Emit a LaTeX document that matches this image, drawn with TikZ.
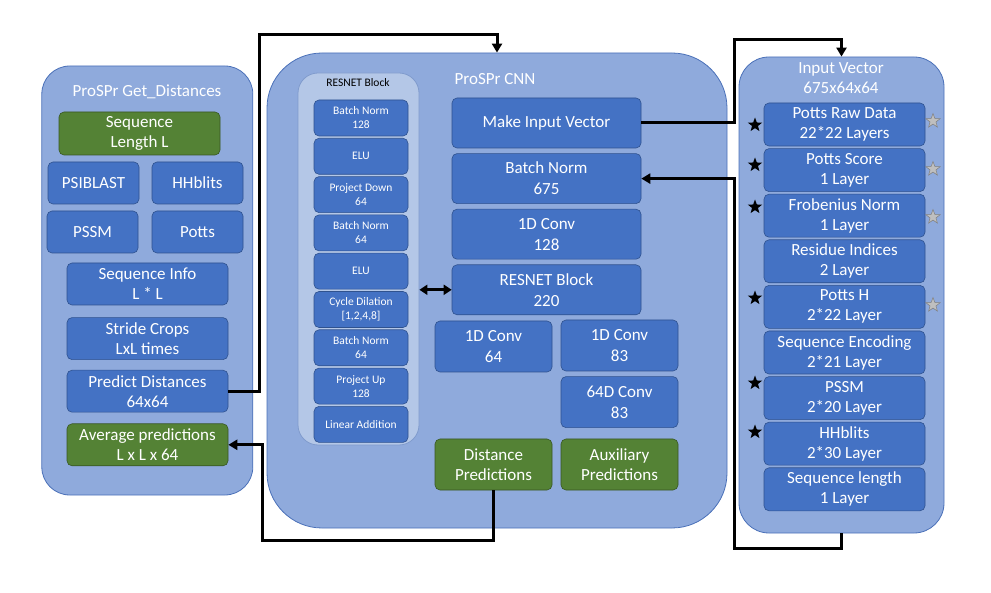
\documentclass[tikz,border=0pt]{standalone}
\usepackage{fontspec}
\setmainfont{Carlito}
\usepackage{tikz}
\usetikzlibrary{positioning,arrows.meta,shapes.geometric}

\definecolor{panelblue}{HTML}{8FAADC}
\definecolor{panelline}{HTML}{4A70B8}
\definecolor{boxblue}{HTML}{4472C4}
\definecolor{boxline}{HTML}{2F528F}
\definecolor{resblue}{HTML}{B4C7E7}
\definecolor{boxgreen}{HTML}{548235}
\definecolor{greenline}{HTML}{385723}

\begin{document}
\begin{tikzpicture}[x=1pt, y=-1pt,
    panel/.style={rectangle, draw=panelline, fill=panelblue, line width=0.8pt, inner sep=0pt},
    box/.style={rectangle, draw=boxline, fill=boxblue, rounded corners=5pt, text=white,
                align=center, inner sep=0pt, line width=0.6pt, font=\fontsize{17}{20}\selectfont},
    gbox/.style={box, draw=greenline, fill=boxgreen},
    cbox/.style={box, minimum height=50pt, font=\fontsize{17}{21}\selectfont},
    rbox/.style={box, minimum width=94pt, minimum height=36pt, font=\fontsize{11.5}{14}\selectfont},
    vbox/.style={box, minimum width=161pt, minimum height=43pt},
    title/.style={text=white, align=center, font=\fontsize{17}{20}\selectfont},
    conn/.style={-{Triangle[length=9pt,width=10pt]}, line width=3pt},
    dconn/.style={{Triangle[length=8pt,width=10pt]}-{Triangle[length=8pt,width=10pt]}, line width=2.6pt},
    bstar/.style={star, star points=5, star point ratio=2.4, minimum size=15pt, inner sep=0pt, fill=black},
    gstar/.style={bstar, fill=gray!50, draw=gray, line width=0.5pt},
]
\useasboundingbox (0,0) rectangle (991,593);

% ProSPr Get_Distances
\node[panel, rounded corners=28pt, minimum width=211pt, minimum height=429pt] (getdist) at (147.3,280.5) {};
\node[title] (getdisttitle) at (147,92) {ProSPr Get\_Distances};
\node[gbox, minimum width=161pt, minimum height=43pt] (seqlen) at (139.5,133.5) {Sequence\\Length L};
\node[box, minimum width=91pt, minimum height=42pt] (psiblast) at (93.5,183) {PSIBLAST};
\node[box, minimum width=91pt, minimum height=42pt] (hhblits) at (197.5,183) {HHblits};
\node[box, minimum width=91pt, minimum height=42pt] (pssm) at (92.5,232) {PSSM};
\node[box, minimum width=91pt, minimum height=42pt] (potts) at (197.5,232) {Potts};
\node[box, minimum width=161pt, minimum height=42pt] (seqinfo) at (147.5,284) {Sequence Info\\L * L};
\node[box, minimum width=161pt, minimum height=42pt, below=12pt of seqinfo] (stride) {Stride Crops\\LxL times};
\node[box, minimum width=161pt, minimum height=42pt, below=10pt of stride] (predict) {Predict Distances\\64x64};
\node[gbox, minimum width=161pt, minimum height=42pt, below=11pt of predict] (average) {Average predictions\\L x L x 64};

% ProSPr CNN
\node[panel, rounded corners=55pt, minimum width=460pt, minimum height=475pt] (cnn) at (497,290.5) {};
\node[title] (cnntitle) at (495,79) {ProSPr CNN};

% RESNET Block
\node[panel, draw=panelline!70, fill=resblue, rounded corners=20pt, minimum width=121pt, minimum height=372pt] (resnet) at (358.5,259) {};
\node[font=\fontsize{11.5}{14}\selectfont] (resnettitle) at (358,83) {RESNET Block};
\node[rbox] (rbn1) at (361,118) {Batch Norm\\128};
\node[rbox, below=1.7pt of rbn1] (relu1) {ELU};
\node[rbox, below=1.7pt of relu1] (rdown) {Project Down\\64};
\node[rbox, below=1.7pt of rdown] (rbn2) {Batch Norm\\64};
\node[rbox, below=1.7pt of rbn2] (relu2) {ELU};
\node[rbox, below=1.7pt of relu2] (rdil) {Cycle Dilation\\{[1,2,4,8]}};
\node[rbox, below=1.7pt of rdil] (rbn3) {Batch Norm\\64};
\node[rbox, below=1.7pt of rbn3] (rup) {Project Up\\128};
\node[rbox, below=1.7pt of rup] (radd) {Linear Addition};

% CNN layers
\node[cbox, minimum width=189pt] (mkinput) at (546.5,123) {Make Input Vector};
\node[cbox, minimum width=189pt, below=5pt of mkinput] (bn675) {Batch Norm\\675};
\node[cbox, minimum width=189pt, below=5pt of bn675] (conv128) {1D Conv\\128};
\node[cbox, minimum width=189pt, below=5pt of conv128] (resblk) {RESNET Block\\220};
\node[cbox, minimum width=117pt, minimum height=51pt] (conv64) at (493.5,346.5) {1D Conv\\64};
\node[cbox, minimum width=117pt, minimum height=51pt] (conv83) at (619.5,345.5) {1D Conv\\83};
\node[cbox, minimum width=117pt, minimum height=51pt, below=5pt of conv83] (conv64d) {64D Conv\\83};
\node[cbox, gbox, minimum width=117pt, minimum height=51pt] (distpred) at (493.5,464.5) {Distance\\Predictions};
\node[cbox, gbox, minimum width=117pt, minimum height=51pt] (auxpred) at (619.5,464.5) {Auxiliary\\Predictions};

% Input Vector
\node[panel, rounded corners=30pt, minimum width=205pt, minimum height=476pt] (inpanel) at (841.5,295) {};
\node[title] (invectitle) at (841,78) {Input Vector\\675x64x64};
\node[vbox] (pottsraw) at (844.5,124.5) {Potts Raw Data\\22*22 Layers};
\node[vbox, below=2pt of pottsraw] (pottsscore) {Potts Score\\1 Layer};
\node[vbox, below=2pt of pottsscore] (frob) {Frobenius Norm\\1 Layer};
\node[vbox, below=2pt of frob] (resid) {Residue Indices\\2 Layer};
\node[vbox, below=2pt of resid] (pottsh) {Potts H\\2*22 Layer};
\node[vbox, below=2pt of pottsh] (seqenc) {Sequence Encoding\\2*21 Layer};
\node[vbox, below=2pt of seqenc] (inpssm) {PSSM\\2*20 Layer};
\node[vbox, below=2pt of inpssm] (inhhb) {HHblits\\2*30 Layer};
\node[vbox, below=2pt of inhhb] (inseqlen) {Sequence length\\1 Layer};

% stars
\foreach \y [count=\i] in {125,165,207,298,383,432}
  \node[bstar] (bs\i) at (755,\y) {};
\foreach \y [count=\i] in {121,169,217,305}
  \node[gstar] (gs\i) at (933,\y) {};

% connectors
\coordinate (toppath) at (259,35);
\coordinate (botpath) at (262,540);
\coordinate (rtoppath) at (734,40);
\coordinate (rbotpath) at (734,548);
\draw[conn] (predict.east) -| (toppath) -| (cnn.north);
\draw[conn] (distpred.south) |- (botpath) |- (average.east);
\draw[conn] (mkinput.east) -| (rtoppath) -| (inpanel.north);
\draw[conn] (inpanel.south) |- (rbotpath) |- (bn675.east);
\draw[dconn] (resnet.east |- resblk.west) -- (resblk.west);
\end{tikzpicture}
\end{document}
